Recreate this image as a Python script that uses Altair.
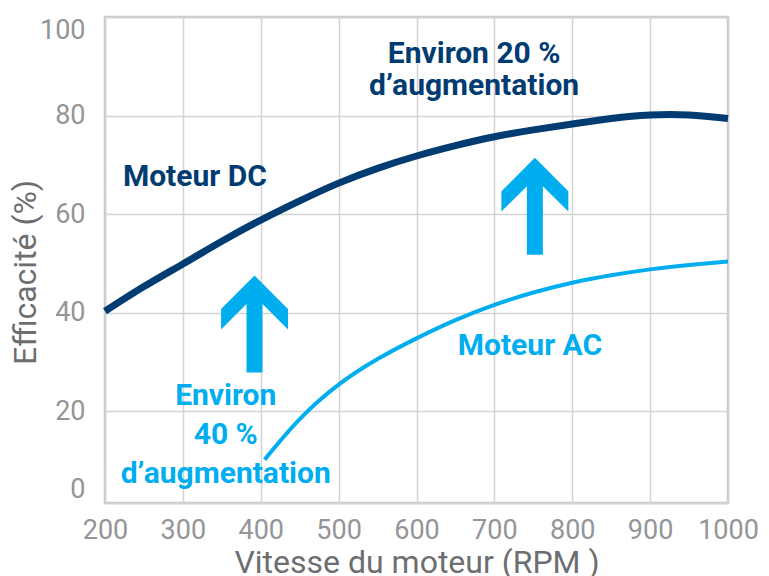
import altair as alt
import pandas as pd

# ---- data ----
rpm_dc = [200, 250, 300, 350, 400, 450, 500, 550, 600, 650, 700, 750, 800, 850, 900, 950, 1000]
eff_dc = [40.3, 45.3, 49.9, 54.5, 58.8, 62.7, 66.3, 69.3, 71.8, 73.9, 75.7, 77.1, 78.3, 79.4, 80.1, 80.1, 79.4]

rpm_ac = [405, 450, 500, 550, 600, 650, 700, 750, 800, 850, 900, 950, 1000]
eff_ac = [10.2, 18.4, 25.4, 30.6, 34.8, 38.5, 41.6, 44.1, 46.1, 47.6, 48.8, 49.7, 50.4]

x_ticks = [200, 300, 400, 500, 600, 700, 800, 900, 1000]
y_ticks = [1.4, 20, 40, 60, 80, 100]

series_labels = ["Moteur DC", "Moteur AC"]
series_label_rpm = [223, 653]
series_label_eff = [67.6, 33.2]

gain_dc_text = "Environ 20 %\nd’augmentation"
gain_dc_rpm = [674]
gain_dc_eff = [92.5]

gain_ac_text = "Environ\n40 %\nd’augmentation"
gain_ac_rpm = [355]
gain_ac_eff = [23.1]

arrow_rpm = [392, 752]
arrow_eff = [37.7, 61.6]

NAVY = "#003B71"
CYAN = "#00AEEF"
FONT = "Roboto"

ARROW = ("M0,-1L0.69,-0.31L0.69,0.11L0.165,-0.415L0.165,1L-0.165,1"
         "L-0.165,-0.415L-0.69,0.11L-0.69,-0.31Z")

xs = alt.Scale(domain=[200, 1000], nice=False, zero=False)
ys = alt.Scale(domain=[1.4, 100], nice=False, zero=False)

x_axis = alt.Axis(values=x_ticks, title="Vitesse du moteur (RPM )", labelFlush=False,
                  labelOverlap=False, labelPadding=14, ticks=False, tickSize=0,
                  format="d", domain=False, titleX=311.5, titleY=59,
                  titleBaseline="middle", titleAlign="center")
y_axis = alt.Axis(values=y_ticks, title="Efficacité (%)", labelFlush=True,
                  labelFlushOffset=0, labelOverlap=False, labelPadding=20,
                  labelExpr="datum.value < 10 ? '0' : format(datum.value, 'd')",
                  ticks=False, tickSize=0, domain=False, titleAngle=270,
                  titleX=-80, titleY=255, titleBaseline="middle", titleAlign="center")

dc = pd.DataFrame({"rpm": rpm_dc, "eff": eff_dc})
ac = pd.DataFrame({"rpm": rpm_ac, "eff": eff_ac})

line_dc = alt.Chart(dc).mark_line(color=NAVY, strokeWidth=7, interpolate="natural",
                                  strokeCap="butt").encode(
    x=alt.X("rpm:Q", scale=xs, axis=x_axis),
    y=alt.Y("eff:Q", scale=ys, axis=y_axis),
)
line_ac = alt.Chart(ac).mark_line(color=CYAN, strokeWidth=4, interpolate="natural",
                                  strokeCap="butt").encode(
    x=alt.X("rpm:Q", scale=xs), y=alt.Y("eff:Q", scale=ys))

arrows = alt.Chart(pd.DataFrame({"rpm": arrow_rpm, "eff": arrow_eff})).mark_point(
    shape=ARROW, filled=True, color=CYAN, opacity=1, size=9409, strokeWidth=0
).encode(x=alt.X("rpm:Q", scale=xs), y=alt.Y("eff:Q", scale=ys))

labels_df = pd.DataFrame({"rpm": series_label_rpm, "eff": series_label_eff,
                          "label": series_labels})
series_text = alt.Chart(labels_df).mark_text(
    font=FONT, fontWeight="bold", fontSize=30, align="left", baseline="middle"
).encode(
    x=alt.X("rpm:Q", scale=xs), y=alt.Y("eff:Q", scale=ys), text="label:N",
    color=alt.Color("label:N", scale=alt.Scale(domain=series_labels, range=[NAVY, CYAN]),
                    legend=None),
)

gain_dc = alt.Chart(pd.DataFrame({"rpm": gain_dc_rpm, "eff": gain_dc_eff})).mark_text(
    text=gain_dc_text, lineBreak="\n", lineHeight=32, font=FONT, fontWeight="bold",
    fontSize=30, color=NAVY, align="center", baseline="middle"
).encode(x=alt.X("rpm:Q", scale=xs), y=alt.Y("eff:Q", scale=ys))

gain_ac = alt.Chart(pd.DataFrame({"rpm": gain_ac_rpm, "eff": gain_ac_eff})).mark_text(
    text=gain_ac_text, lineBreak="\n", lineHeight=39, font=FONT, fontWeight="bold",
    fontSize=30, color=CYAN, align="center", baseline="middle"
).encode(x=alt.X("rpm:Q", scale=xs), y=alt.Y("eff:Q", scale=ys))

chart = alt.layer(line_dc, line_ac, arrows, series_text, gain_dc, gain_ac).properties(
    width=623, height=486,
    autosize=alt.AutoSizeParams(type="none"),
    padding={"left": 97, "top": 9, "right": 33, "bottom": 73},
    background="white",
).configure_view(
    stroke="#c8c8c8", strokeWidth=2.5
).configure_axis(
    labelFont=FONT, labelFontSize=27, labelColor="#939598",
    titleFont=FONT, titleFontSize=32, titleColor="#6d6e71", titleFontWeight="normal",
    gridColor="#d3d3d3", gridWidth=1.5,
)

chart.save("out.html", embed_options={"renderer": "svg", "actions": False})
